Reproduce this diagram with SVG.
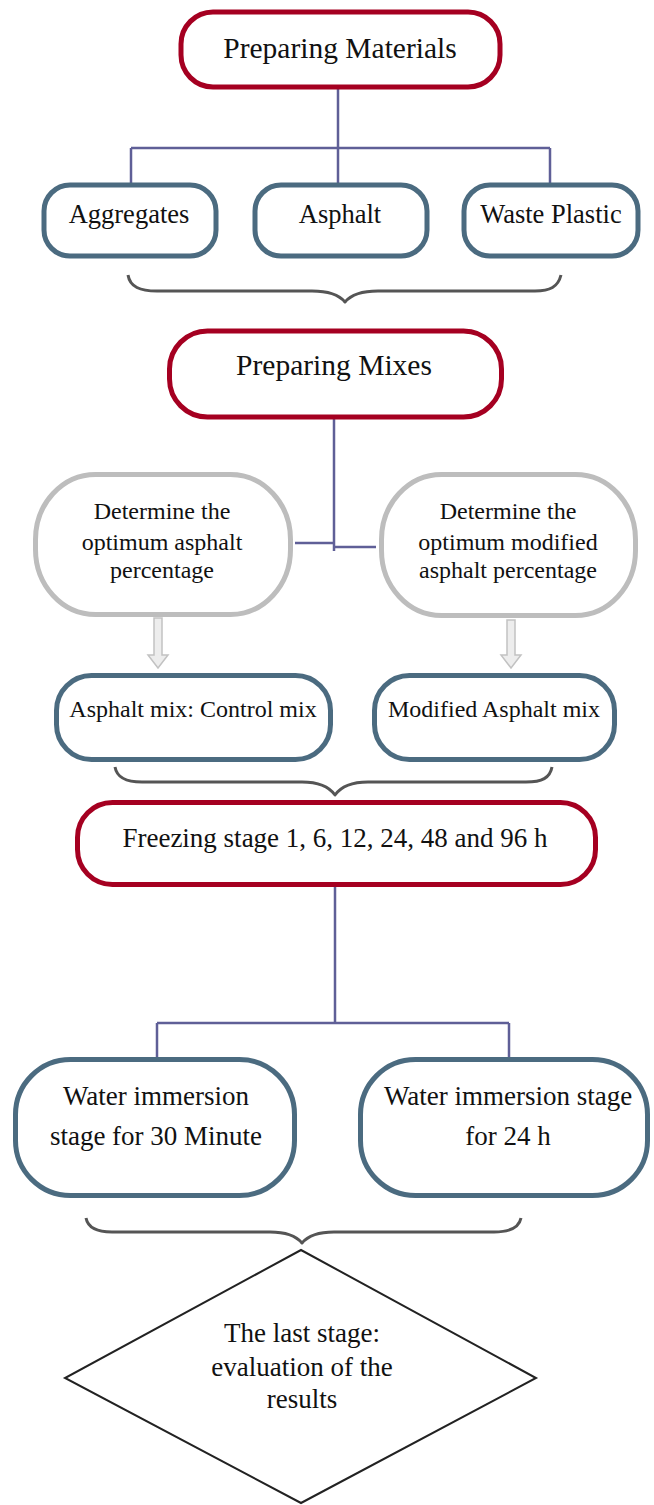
<svg xmlns="http://www.w3.org/2000/svg" width="654" height="1505" viewBox="0 0 654 1505">
<style>
.red{fill:#fff;stroke:#A50021;stroke-width:5}
.blue{fill:#fff;stroke:#4B6B80;stroke-width:5}
.gray{fill:#fff;stroke:#BDBDBD;stroke-width:5}
.conn{fill:none;stroke:#5F5F97;stroke-width:2.5}
.brace{fill:none;stroke:#555;stroke-width:3;stroke-linejoin:round}
.arr{fill:#EDEDED;stroke:#C2C2C2;stroke-width:1.5}
</style>
<rect width="654" height="1505" fill="#fff"/>
<g id="connectors">
<path class="conn" d="M338,89 V148 M131,148 H550 M131,148 V184 M338,148 V184 M550,148 V184"/>
<path class="conn" d="M334,418 V551 M295,543 H334 M334,547 H376"/>
<path class="conn" d="M335,886 V1023 M157,1023 H509 M157,1023 V1058 M509,1023 V1058"/>
<polygon class="arr" points="154,618 162,618 162,655 168,655 158,668 148,655 154,655"/>
<polygon class="arr" points="507,620 515,620 515,655 521,655 511,668 501,655 507,655"/>
<path class="brace" d="M128,275 C130,287 140,291 157,291 L312,291 C330,291 340,296 345,302 C350,296 360,291 378,291 L535,291 C550,291 558,287 561,275"/>
<path class="brace" d="M115,767 C117,778 126,782 142,782 L302,782 C320,782 330,788 335,795 C340,788 350,782 368,782 L526,782 C542,782 550,778 552,767"/>
<path class="brace" d="M86,1218 C88,1228 97,1232 112,1232 L270,1232 C288,1232 297,1237 302,1243 C307,1237 316,1232 334,1232 L494,1232 C510,1232 519,1228 521,1218"/>
</g>
<g id="preparing-materials">
<rect class="red" x="181" y="12" width="319" height="75" rx="32"/>
<text x="340" y="58" font-size="29.5" font-family="Liberation Serif" text-anchor="middle" fill="#111">Preparing Materials</text>
</g>
<g id="aggregates">
<rect class="blue" x="44" y="185" width="172" height="71" rx="26"/>
<text x="129" y="223" font-size="26.5" font-family="Liberation Serif" text-anchor="middle" fill="#111">Aggregates</text>
</g>
<g id="asphalt">
<rect class="blue" x="255" y="185" width="172" height="71" rx="26"/>
<text x="340" y="223" font-size="26.5" font-family="Liberation Serif" text-anchor="middle" fill="#111">Asphalt</text>
</g>
<g id="waste-plastic">
<rect class="blue" x="464" y="185" width="174" height="71" rx="26"/>
<text x="551" y="223" font-size="26.5" font-family="Liberation Serif" text-anchor="middle" fill="#111">Waste Plastic</text>
</g>
<g id="preparing-mixes">
<rect class="red" x="169.5" y="331" width="332" height="86" rx="38"/>
<text x="334" y="375" font-size="29.5" font-family="Liberation Serif" text-anchor="middle" fill="#111">Preparing Mixes</text>
</g>
<g id="optimum-asphalt">
<rect class="gray" x="35.5" y="474.5" width="255" height="140" rx="60" ry="65"/>
<text x="162" y="519" font-size="24" font-family="Liberation Serif" text-anchor="middle" fill="#111">Determine the</text>
<text x="162" y="550" font-size="24" font-family="Liberation Serif" text-anchor="middle" fill="#111">optimum asphalt</text>
<text x="162" y="578" font-size="24" font-family="Liberation Serif" text-anchor="middle" fill="#111">percentage</text>
</g>
<g id="optimum-modified">
<rect class="gray" x="381.5" y="474.5" width="254" height="141" rx="60" ry="65"/>
<text x="508" y="519" font-size="24" font-family="Liberation Serif" text-anchor="middle" fill="#111">Determine the</text>
<text x="508" y="550" font-size="24" font-family="Liberation Serif" text-anchor="middle" fill="#111">optimum modified</text>
<text x="508" y="578" font-size="24" font-family="Liberation Serif" text-anchor="middle" fill="#111">asphalt percentage</text>
</g>
<g id="control-mix">
<rect class="blue" x="56.5" y="675.5" width="274" height="84" rx="35"/>
<text x="193" y="717" font-size="24" font-family="Liberation Serif" text-anchor="middle" fill="#111">Asphalt mix: Control mix</text>
</g>
<g id="modified-mix">
<rect class="blue" x="374.5" y="675.5" width="240" height="84" rx="35"/>
<text x="494" y="717" font-size="24" font-family="Liberation Serif" text-anchor="middle" fill="#111">Modified Asphalt mix</text>
</g>
<g id="freezing">
<rect class="red" x="77.5" y="802.5" width="518" height="82" rx="35"/>
<text x="335" y="847" font-size="27" font-family="Liberation Serif" text-anchor="middle" fill="#111">Freezing stage 1, 6, 12, 24, 48 and 96 h</text>
</g>
<g id="water-30">
<rect class="blue" x="15.5" y="1059.5" width="279" height="136" rx="55"/>
<text x="156" y="1105" font-size="27" font-family="Liberation Serif" text-anchor="middle" fill="#111">Water immersion</text>
<text x="156" y="1145" font-size="27" font-family="Liberation Serif" text-anchor="middle" fill="#111">stage for 30 Minute</text>
</g>
<g id="water-24">
<rect class="blue" x="360.5" y="1059.5" width="287" height="136" rx="55"/>
<text x="508" y="1105" font-size="27" font-family="Liberation Serif" text-anchor="middle" fill="#111">Water immersion stage</text>
<text x="508" y="1145" font-size="27" font-family="Liberation Serif" text-anchor="middle" fill="#111">for 24 h</text>
</g>
<g id="last-stage">
<polygon points="301,1250 536,1378 301,1503 65,1378" fill="#fff" stroke="#222" stroke-width="2"/>
<text x="302" y="1342" font-size="27" font-family="Liberation Serif" text-anchor="middle" fill="#111">The last stage:</text>
<text x="302" y="1376" font-size="27" font-family="Liberation Serif" text-anchor="middle" fill="#111">evaluation of the</text>
<text x="302" y="1408" font-size="27" font-family="Liberation Serif" text-anchor="middle" fill="#111">results</text>
</g>
</svg>
